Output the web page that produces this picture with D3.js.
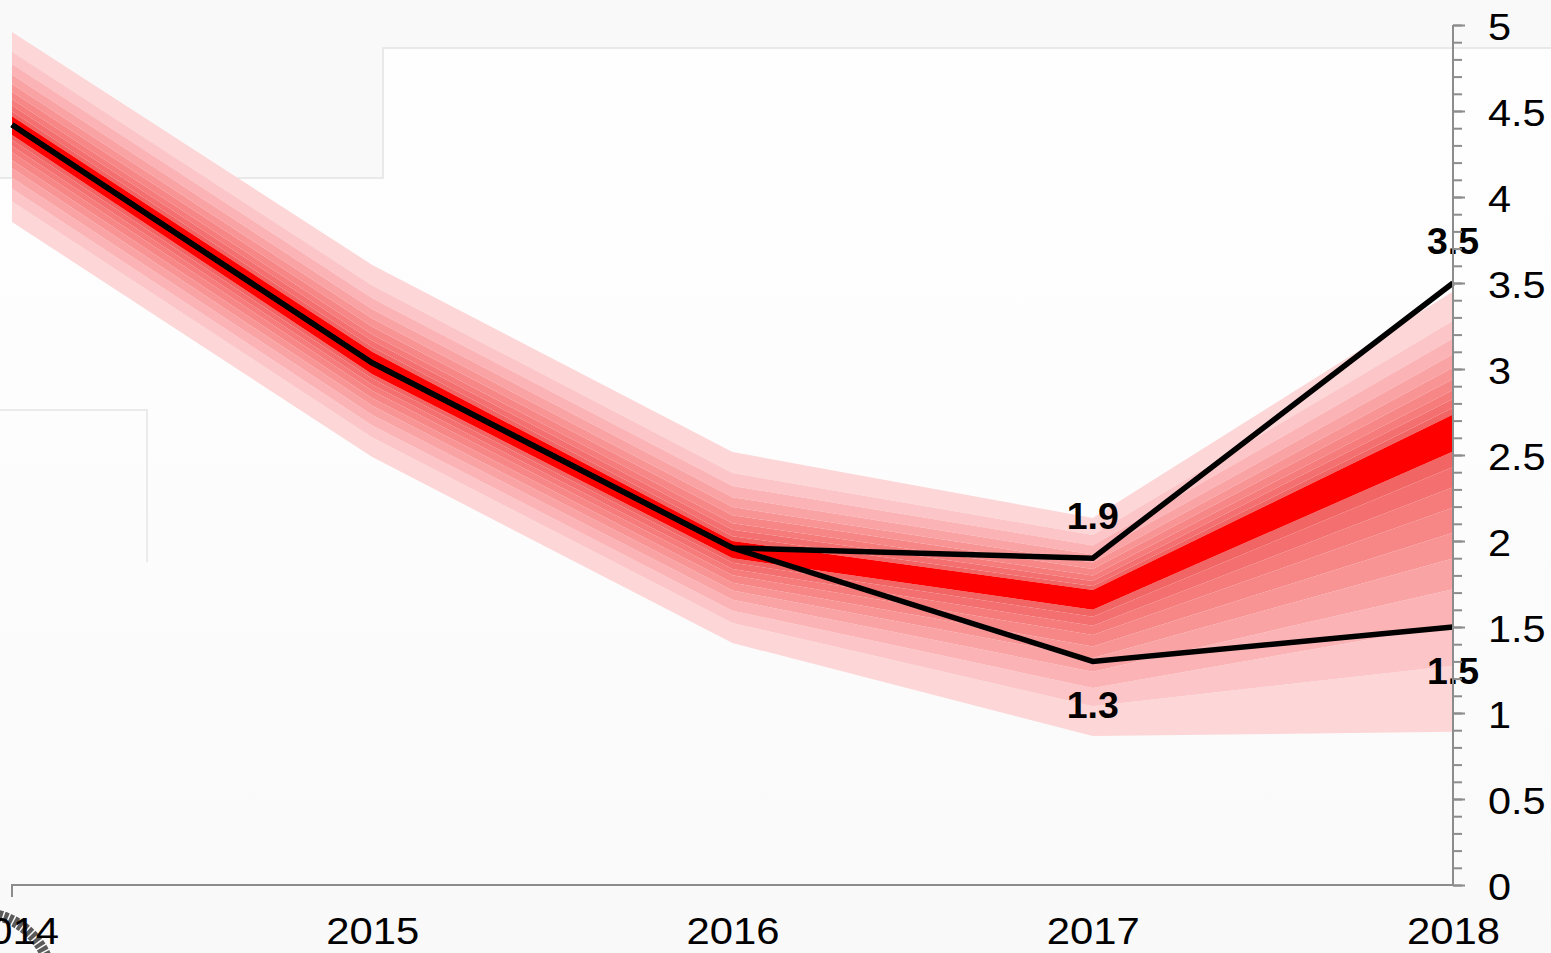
<!DOCTYPE html>
<html>
<head>
<meta charset="utf-8">
<script src="https://cdn.jsdelivr.net/npm/d3@7"></script>
<style>
  html, body { margin: 0; padding: 0; background: #fafafa; overflow: hidden; }
  svg { display: block; font-family: "Liberation Sans", Arial, sans-serif; }
</style>
</head>
<body>
<div class="panel"></div>
<script>
const width = 1551;
const height = 953;

// years on the x axis
const years = [2014, 2015, 2016, 2017, 2018];

// fan band edges, outer edge first (one value per year)
const upperEdges = [
  [4.96, 3.605, 2.517, 2.134, 3.45],
  [4.844, 3.486, 2.395, 2.035, 3.281],
  [4.773, 3.412, 2.320, 1.974, 3.177],
  [4.711, 3.348, 2.254, 1.921, 3.086],
  [4.657, 3.293, 2.197, 1.875, 3.008],
  [4.612, 3.246, 2.150, 1.837, 2.942],
  [4.568, 3.201, 2.103, 1.799, 2.878],
  [4.532, 3.164, 2.066, 1.768, 2.826],
  [4.497, 3.128, 2.028, 1.738, 2.774]
];
const lowerEdges = [
  [3.855, 2.488, 1.407, 0.866, 0.891],
  [3.974, 2.602, 1.523, 1.039, 1.275],
  [4.048, 2.672, 1.595, 1.146, 1.513],
  [4.112, 2.733, 1.658, 1.240, 1.720],
  [4.167, 2.786, 1.712, 1.320, 1.898],
  [4.214, 2.830, 1.757, 1.387, 2.048],
  [4.259, 2.874, 1.801, 1.453, 2.194],
  [4.296, 2.909, 1.837, 1.507, 2.313],
  [4.332, 2.943, 1.873, 1.560, 2.430]
];
// central (red) band
const centreTop = [4.47, 3.10, 2.00, 1.715, 2.735];
const centreBottom = [4.36, 2.97, 1.90, 1.60, 2.52];

// the two black paths
const highPath = [4.42, 3.035, 1.96, 1.9, 3.5];
const lowPath = [4.42, 3.035, 1.96, 1.3, 1.5];

// value labels: [year, value, above?]
const valueLabels = [
  [2017, 1.9, true],
  [2017, 1.3, false],
  [2018, 3.5, true],
  [2018, 1.5, false]
];

const bandColours = ["#fdd6d7", "#fcc5c7", "#fbb3b5", "#faa3a4", "#f99495",
                     "#f78787", "#f67b7b", "#f46f6f", "#f26565"];

const svg = d3.select(".panel")
    .append("svg")
    .attr("width", width)
    .attr("height", height)
    .attr("viewBox", `0 0 ${width} ${height}`);

const x = d3.scalePoint().domain(years).range([12, 1453]);
const y = d3.scaleLinear().domain([0, 5]).range([885, 25]);

// faint background
const defs = svg.append("defs");
const grad = defs.append("linearGradient")
    .attr("id", "bg").attr("x1", 0).attr("y1", 0).attr("x2", 0).attr("y2", 1);
grad.append("stop").attr("offset", "0%").attr("stop-color", "#fefefe");
grad.append("stop").attr("offset", "45%").attr("stop-color", "#fdfdfd");
grad.append("stop").attr("offset", "100%").attr("stop-color", "#f9f9f9");

svg.append("rect").attr("width", width).attr("height", height).attr("fill", "url(#bg)");
svg.append("path")
    .attr("d", "M0,0H1551V48H383V178H0Z")
    .attr("fill", "#f9f9f9");
svg.append("path")
    .attr("d", "M0,178H383V48H1551")
    .attr("fill", "none").attr("stroke", "#e9e9e9").attr("stroke-width", 2);
svg.append("path")
    .attr("d", "M0,410H147V562")
    .attr("fill", "none").attr("stroke", "#ebebeb").attr("stroke-width", 2);

// fan bands
const band = d3.area()
    .x((d, i) => x(years[i]))
    .y0(d => y(d[0]))
    .y1(d => y(d[1]));

function bandData(a, b) {
  return a.map((v, i) => [v, b[i]]);
}

const fan = svg.append("g");
upperEdges.forEach((edge, k) => {
  const inner = k < upperEdges.length - 1 ? upperEdges[k + 1] : centreTop;
  fan.append("path")
      .attr("d", band(bandData(inner, edge)))
      .attr("fill", bandColours[k]);
});
lowerEdges.forEach((edge, k) => {
  const inner = k < lowerEdges.length - 1 ? lowerEdges[k + 1] : centreBottom;
  fan.append("path")
      .attr("d", band(bandData(edge, inner)))
      .attr("fill", bandColours[k]);
});
fan.append("path")
    .attr("d", band(bandData(centreBottom, centreTop)))
    .attr("fill", "#ff0000");

// black paths
const line = d3.line().x((d, i) => x(years[i])).y(d => y(d));
[highPath, lowPath].forEach(p => {
  svg.append("path")
      .attr("d", line(p))
      .attr("fill", "none")
      .attr("stroke", "#000")
      .attr("stroke-width", 5.5)
      .attr("stroke-linejoin", "miter");
});

// value labels
svg.selectAll(".value-label")
    .data(valueLabels)
    .enter()
    .append("text")
    .attr("class", "value-label")
    .attr("transform", d => `translate(${x(d[0])},${d[2] ? y(d[1]) - 29 : y(d[1]) + 57}) scale(1.04,1)`)
    .attr("text-anchor", "middle")
    .attr("font-size", 36)
    .attr("font-weight", "bold")
    .attr("fill", "#000")
    .text(d => d[1]);

// logo remnant bottom-left
svg.append("circle")
    .attr("cx", -20).attr("cy", 985).attr("r", 72)
    .attr("fill", "none")
    .attr("stroke", "#5a5a5a")
    .attr("stroke-width", 11)
    .attr("stroke-dasharray", "4 1.5");

// axes
const axisColour = "#8c8c8c";

const yMinor = svg.append("g")
    .attr("transform", `translate(${x(2018)},0)`)
    .call(d3.axisRight(y)
      .tickValues(d3.range(0, 51).map(v => v / 10))
      .tickSize(9)
      .tickFormat(""));
yMinor.select(".domain").remove();
yMinor.selectAll("line").attr("stroke", axisColour).attr("stroke-width", 2);

const yMajor = svg.append("g")
    .attr("transform", `translate(${x(2018)},0)`)
    .call(d3.axisRight(y)
      .tickValues(d3.range(0, 11).map(v => v / 2))
      .tickSize(12)
      .tickPadding(23)
      .tickFormat(d3.format("")));
yMajor.select(".domain").attr("stroke", axisColour).attr("stroke-width", 2)
    .attr("d", `M0,${y(0)}V${y(5)}`);
yMajor.selectAll("line").attr("stroke", axisColour).attr("stroke-width", 2);
yMajor.selectAll("text")
    .attr("x", 0)
    .attr("transform", "translate(35,1) scale(1.12,1)")
    .attr("font-size", 37)
    .attr("font-family", "Liberation Sans, Arial, sans-serif")
    .attr("fill", "#000")
    .attr("dy", "0.36em");

const xAxis = svg.append("g")
    .attr("transform", `translate(0,${y(0)})`)
    .call(d3.axisBottom(x)
      .tickSize(12)
      .tickPadding(21)
      .tickFormat(d3.format("")));
xAxis.select(".domain").attr("stroke", axisColour).attr("stroke-width", 2)
    .attr("d", `M${x(2014)},12V0H${x(2018)}`);
xAxis.selectAll(".tick line").remove();
xAxis.selectAll("text")
    .attr("transform", "scale(1.13,1)")
    .attr("font-size", 37)
    .attr("font-family", "Liberation Sans, Arial, sans-serif")
    .attr("fill", "#000");
</script>
</body>
</html>
